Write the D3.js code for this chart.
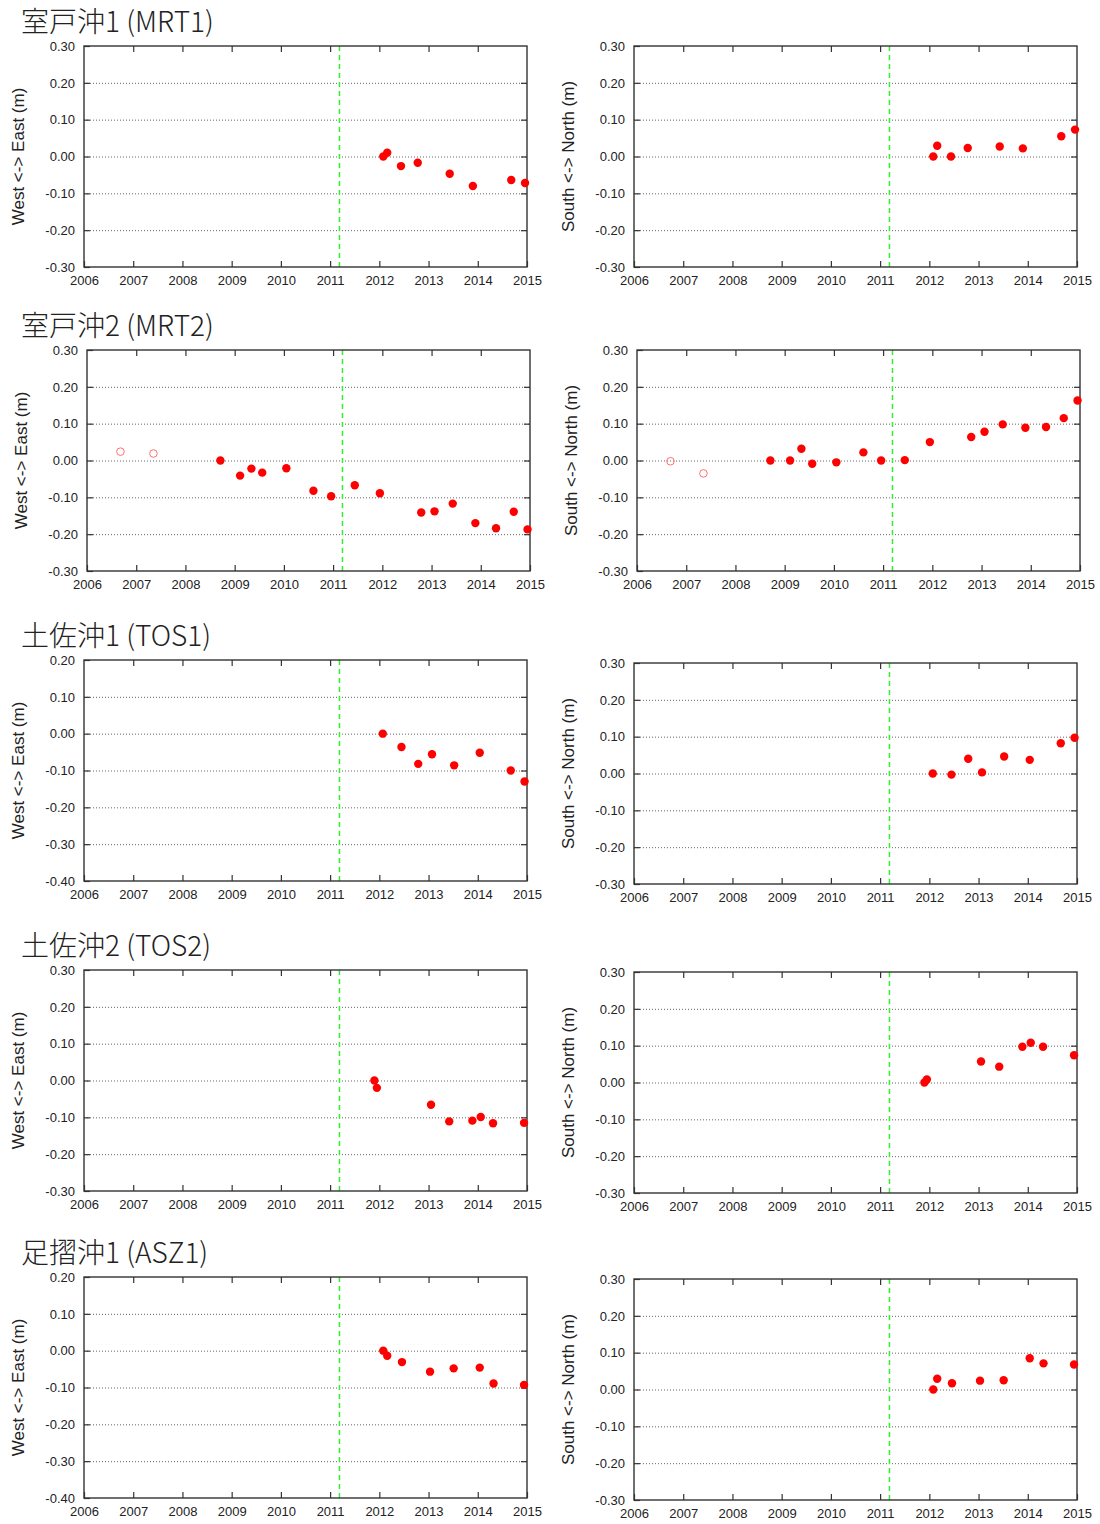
<!DOCTYPE html>
<html>
<head>
<meta charset="utf-8">
<script src="https://cdn.jsdelivr.net/npm/d3@7"></script>
<style>
  body { margin: 0; background: #fff; }
  .tick text { font-family: "Liberation Sans", Arial, sans-serif; font-size: 13px; fill: #222; }
  .axis .domain { display: none; }
  .axis line { stroke: #333; stroke-width: 1.2; }
  .grid line { stroke: #666; stroke-width: 1; stroke-dasharray: 1,2; }
  .grid .domain { display: none; }
  .axis-title { font-family: "Liberation Sans", Arial, sans-serif; font-size: 17px; fill: #222; }
  .station-title { font-family: "Noto Sans CJK JP", sans-serif; font-weight: 300; font-size: 28px; fill: #222; }
</style>
</head>
<body>
<div id="chart"></div>
<script>
// station names
const stationTitles = ["室戸沖1 (MRT1)", "室戸沖2 (MRT2)", "土佐沖1 (TOS1)", "土佐沖2 (TOS2)", "足摺沖1 (ASZ1)"];
const eastTitle = "West <-> East (m)";
const northTitle = "South <-> North (m)";
const yearTicks = [2006, 2007, 2008, 2009, 2010, 2011, 2012, 2013, 2014, 2015];
const quakeYear = 2011.19;

// MRT1
const mrt1Years = [2012.08, 2012.16, 2012.44, 2012.78, 2013.43, 2013.90, 2014.68, 2014.96];
const mrt1East  = [0.000, 0.010, -0.026, -0.017, -0.047, -0.080, -0.064, -0.072];
const mrt1North = [0.000, 0.029, 0.000, 0.023, 0.027, 0.022, 0.055, 0.073];

// MRT2 (two early reference surveys shown as open circles)
const mrt2OldYears = [2006.68, 2007.35];
const mrt2OldEast  = [0.024, 0.019];
const mrt2OldNorth = [-0.002, -0.035];
const mrt2Years = [2008.71, 2009.11, 2009.34, 2009.56, 2010.05, 2010.60, 2010.96, 2011.44, 2011.95, 2012.79, 2013.06, 2013.43, 2013.89, 2014.31, 2014.67, 2014.95];
const mrt2East  = [0.000, -0.041, -0.022, -0.033, -0.021, -0.082, -0.097, -0.067, -0.089, -0.141, -0.138, -0.117, -0.170, -0.184, -0.139, -0.187];
const mrt2North = [0.000, 0.000, 0.032, -0.009, -0.005, 0.022, 0.000, 0.001, 0.050, 0.064, 0.078, 0.098, 0.089, 0.091, 0.115, 0.163];

// TOS1
const tos1Years = [2012.07, 2012.45, 2012.79, 2013.07, 2013.52, 2014.04, 2014.67, 2014.95];
const tos1East  = [0.000, -0.036, -0.082, -0.056, -0.086, -0.052, -0.100, -0.130];
const tos1North = [0.000, -0.003, 0.040, 0.003, 0.046, 0.037, 0.082, 0.097];

// TOS2
const tos2Years = [2011.90, 2011.95, 2013.05, 2013.42, 2013.89, 2014.06, 2014.31, 2014.94];
const tos2East  = [0.000, -0.020, -0.066, -0.111, -0.109, -0.099, -0.116, -0.115];
const tos2North = [0.000, 0.008, 0.057, 0.043, 0.097, 0.108, 0.097, 0.074];

// ASZ1
const asz1Years = [2012.08, 2012.16, 2012.46, 2013.03, 2013.51, 2014.04, 2014.32, 2014.94];
const asz1East  = [0.000, -0.014, -0.031, -0.057, -0.048, -0.046, -0.089, -0.093];
const asz1North = [0.000, 0.029, 0.017, 0.024, 0.025, 0.085, 0.071, 0.068];

// y ranges for the east panels (north panels all -0.3..0.3)
const eastDomains = [[-0.3, 0.3], [-0.3, 0.3], [-0.4, 0.2], [-0.3, 0.3], [-0.4, 0.2]];
const northDomain = [-0.3, 0.3];

const zip = (xs, ys) => xs.map((x, i) => ({year: x, value: ys[i]}));

const stations = [
  {east: zip(mrt1Years, mrt1East), north: zip(mrt1Years, mrt1North), oldEast: [], oldNorth: []},
  {east: zip(mrt2Years, mrt2East), north: zip(mrt2Years, mrt2North),
   oldEast: zip(mrt2OldYears, mrt2OldEast), oldNorth: zip(mrt2OldYears, mrt2OldNorth)},
  {east: zip(tos1Years, tos1East), north: zip(tos1Years, tos1North), oldEast: [], oldNorth: []},
  {east: zip(tos2Years, tos2East), north: zip(tos2Years, tos2North), oldEast: [], oldNorth: []},
  {east: zip(asz1Years, asz1East), north: zip(asz1Years, asz1North), oldEast: [], oldNorth: []}
];

// panel placement
const plotW = 443, plotH = 221;
const leftX  = [84, 87, 84, 84, 84];
const leftY  = [46, 350, 660, 970, 1277];
const rightX = [634, 637, 634, 634, 634];
const rightY = [46, 350, 663, 972, 1279];

// plain hyphen for negatives, like the original plots
const valueFormat = d => d3.format('.2f')(d).replace('−', '-');

const svg = d3.select('#chart').append('svg')
    .attr('width', 1100)
    .attr('height', 1524)
    .style('background', '#fff');

function drawPanel(x0, y0, yDomain, points, openPoints, title) {
  const g = svg.append('g').attr('transform', `translate(${x0},${y0})`);

  const xScale = d3.scaleLinear().domain([2006, 2015]).range([0, plotW]);
  const yScale = d3.scaleLinear().domain(yDomain).range([plotH, 0]);
  const yTicks = d3.range(Math.round(yDomain[0] * 10), Math.round(yDomain[1] * 10) + 1).map(d => d / 10);
  const inner = yTicks.slice(1, -1);

  // dotted grid
  g.append('g')
      .attr('class', 'grid')
      .call(d3.axisLeft(yScale).tickValues(inner).tickSize(-plotW).tickFormat(''));

  // earthquake marker
  g.append('line')
      .attr('x1', xScale(quakeYear)).attr('x2', xScale(quakeYear))
      .attr('y1', 0).attr('y2', plotH)
      .attr('stroke', '#2ef02e')
      .attr('stroke-width', 1.5)
      .attr('stroke-dasharray', '5,4');

  // axes with inward ticks
  g.append('g')
      .attr('class', 'axis')
      .attr('transform', `translate(0,${plotH})`)
      .call(d3.axisBottom(xScale).tickValues(yearTicks).tickSize(-6).tickPadding(9).tickFormat(d3.format('d')));
  g.append('g')
      .attr('class', 'axis')
      .call(d3.axisTop(xScale).tickValues(yearTicks.slice(1, -1)).tickSize(-6).tickFormat(''));
  g.append('g')
      .attr('class', 'axis')
      .call(d3.axisLeft(yScale).tickValues(yTicks).tickSize(-6).tickPadding(9).tickFormat(valueFormat));
  g.append('g')
      .attr('class', 'axis')
      .attr('transform', `translate(${plotW},0)`)
      .call(d3.axisRight(yScale).tickValues(inner).tickSize(-6).tickFormat(''));

  g.append('rect')
      .attr('width', plotW).attr('height', plotH)
      .attr('fill', 'none')
      .attr('stroke', '#333')
      .attr('stroke-width', 1.4);

  g.selectAll('.old')
      .data(openPoints)
    .join('circle')
      .attr('class', 'old')
      .attr('cx', d => xScale(d.year))
      .attr('cy', d => yScale(d.value))
      .attr('r', 3.8)
      .attr('fill', 'none')
      .attr('stroke', '#ff7070')
      .attr('stroke-width', 1);

  g.selectAll('.pt')
      .data(points)
    .join('circle')
      .attr('class', 'pt')
      .attr('cx', d => xScale(d.year))
      .attr('cy', d => yScale(d.value))
      .attr('r', 4.2)
      .attr('fill', '#ff0000');

  g.append('text')
      .attr('class', 'axis-title')
      .attr('transform', `translate(${-60},${plotH / 2}) rotate(-90)`)
      .attr('text-anchor', 'middle')
      .text(title);
}

stations.forEach((s, i) => {
  svg.append('text')
      .attr('class', 'station-title')
      .attr('x', 21)
      .attr('y', leftY[i] - 14)
      .text(stationTitles[i]);
  drawPanel(leftX[i], leftY[i], eastDomains[i], s.east, s.oldEast, eastTitle);
  drawPanel(rightX[i], rightY[i], northDomain, s.north, s.oldNorth, northTitle);
});
</script>
</body>
</html>
